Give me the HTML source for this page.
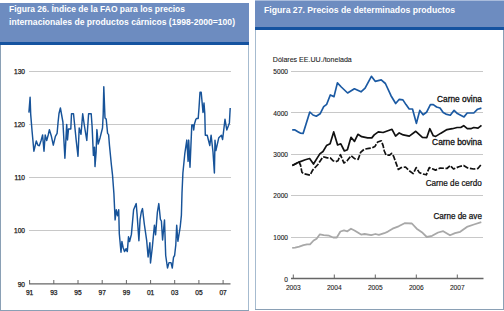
<!DOCTYPE html>
<html><head><meta charset="utf-8"><title>Figuras 26 y 27</title>
<style>
html,body{margin:0;padding:0;background:#fff;width:504px;height:311px;overflow:hidden}
svg{display:block;font-family:"Liberation Sans",sans-serif}
</style></head>
<body>
<svg width="504" height="311" viewBox="0 0 504 311">
<rect x="0" y="44" width="1" height="267" fill="#8aa0b5"/>
<rect x="248" y="44" width="1" height="267" fill="#a6bbcf"/>
<rect x="0" y="310" width="249" height="1" fill="#8aa0b5"/>
<rect x="0" y="3" width="249" height="39" fill="#6d8cc0"/>
<rect x="0" y="42" width="249" height="3" fill="#1553a0"/>
<rect x="255" y="29" width="1" height="281" fill="#a6bbcf"/>
<rect x="503" y="29" width="1" height="281" fill="#8aa0b5"/>
<rect x="255" y="309" width="249" height="1" fill="#8aa0b5"/>
<rect x="255" y="0" width="249" height="1" fill="#a9bcdc"/>
<rect x="255" y="1" width="249" height="26" fill="#6d8cc0"/>
<rect x="255" y="27" width="249" height="3" fill="#1553a0"/>
<text x="9" y="12.3" font-size="9.4" font-weight="bold" fill="#fff" textLength="176" lengthAdjust="spacingAndGlyphs">Figura 26. Índice de la FAO para los precios</text>
<text x="9" y="25" font-size="9.4" font-weight="bold" fill="#fff" textLength="226" lengthAdjust="spacingAndGlyphs">internacionales de productos cárnicos (1998-2000=100)</text>
<text x="264" y="12.8" font-size="9.4" font-weight="bold" fill="#fff" textLength="191" lengthAdjust="spacingAndGlyphs">Figura 27. Precios de determinados productos</text>
<line x1="29" y1="71.5" x2="231" y2="71.5" stroke="#c8c8c8" stroke-width="1"/>
<text x="25" y="73.8" font-size="6.6" fill="#1a1a1a" stroke="#1a1a1a" stroke-width="0.25" text-anchor="end">130</text>
<line x1="29" y1="124.5" x2="231" y2="124.5" stroke="#c8c8c8" stroke-width="1"/>
<text x="25" y="126.8" font-size="6.6" fill="#1a1a1a" stroke="#1a1a1a" stroke-width="0.25" text-anchor="end">120</text>
<line x1="29" y1="177.5" x2="231" y2="177.5" stroke="#c8c8c8" stroke-width="1"/>
<text x="25" y="179.8" font-size="6.6" fill="#1a1a1a" stroke="#1a1a1a" stroke-width="0.25" text-anchor="end">110</text>
<line x1="29" y1="230.5" x2="231" y2="230.5" stroke="#c8c8c8" stroke-width="1"/>
<text x="25" y="232.8" font-size="6.6" fill="#1a1a1a" stroke="#1a1a1a" stroke-width="0.25" text-anchor="end">100</text>
<text x="25" y="287.2" font-size="6.6" fill="#1a1a1a" stroke="#1a1a1a" stroke-width="0.25" text-anchor="end">90</text>
<line x1="29" y1="283.8" x2="230.5" y2="283.8" stroke="#666666" stroke-width="1.3"/>
<line x1="29.6" y1="280" x2="29.6" y2="284" stroke="#666666" stroke-width="1"/>
<text x="29.6" y="295.1" font-size="6.6" fill="#1a1a1a" stroke="#1a1a1a" stroke-width="0.25" text-anchor="middle">91</text>
<line x1="53.8" y1="280" x2="53.8" y2="284" stroke="#666666" stroke-width="1"/>
<text x="53.8" y="295.1" font-size="6.6" fill="#1a1a1a" stroke="#1a1a1a" stroke-width="0.25" text-anchor="middle">93</text>
<line x1="78.0" y1="280" x2="78.0" y2="284" stroke="#666666" stroke-width="1"/>
<text x="78.0" y="295.1" font-size="6.6" fill="#1a1a1a" stroke="#1a1a1a" stroke-width="0.25" text-anchor="middle">95</text>
<line x1="102.2" y1="280" x2="102.2" y2="284" stroke="#666666" stroke-width="1"/>
<text x="102.2" y="295.1" font-size="6.6" fill="#1a1a1a" stroke="#1a1a1a" stroke-width="0.25" text-anchor="middle">97</text>
<line x1="126.4" y1="280" x2="126.4" y2="284" stroke="#666666" stroke-width="1"/>
<text x="126.4" y="295.1" font-size="6.6" fill="#1a1a1a" stroke="#1a1a1a" stroke-width="0.25" text-anchor="middle">99</text>
<line x1="150.6" y1="280" x2="150.6" y2="284" stroke="#666666" stroke-width="1"/>
<text x="150.6" y="295.1" font-size="6.6" fill="#1a1a1a" stroke="#1a1a1a" stroke-width="0.25" text-anchor="middle">01</text>
<line x1="174.7" y1="280" x2="174.7" y2="284" stroke="#666666" stroke-width="1"/>
<text x="174.7" y="295.1" font-size="6.6" fill="#1a1a1a" stroke="#1a1a1a" stroke-width="0.25" text-anchor="middle">03</text>
<line x1="198.9" y1="280" x2="198.9" y2="284" stroke="#666666" stroke-width="1"/>
<text x="198.9" y="295.1" font-size="6.6" fill="#1a1a1a" stroke="#1a1a1a" stroke-width="0.25" text-anchor="middle">05</text>
<line x1="223.1" y1="280" x2="223.1" y2="284" stroke="#666666" stroke-width="1"/>
<text x="223.1" y="295.1" font-size="6.6" fill="#1a1a1a" stroke="#1a1a1a" stroke-width="0.25" text-anchor="middle">07</text>
<polyline points="28.9,112.6 30.1,97.3 30.7,114.4 32.1,131.5 33.9,151.2 36.3,141.0 37.9,145.2 39.3,145.8 41.1,140.5 42.6,134.9 44.0,151.2 45.2,135.0 46.7,140.5 48.2,135.0 49.4,129.7 51.4,136.3 53.3,145.2 55.4,136.3 57.1,133.3 58.1,122.0 59.0,113.5 60.4,108.0 62.9,122.0 64.9,158.3 66.7,124.4 67.5,139.9 68.5,129.0 70.8,129.0 71.5,113.8 73.5,113.8 75.3,131.5 76.2,140.4 78.0,156.3 79.2,128.0 81.0,134.2 82.7,113.8 84.2,124.5 86.8,140.4 88.6,113.8 91.2,113.8 92.1,126.4 93.4,155.4 94.5,147.3 95.0,166.6 96.1,152.2 96.9,129.6 98.2,144.1 100.1,137.7 102.5,128.0 103.2,114.4 103.8,86.8 105.0,118.0 106.2,119.1 107.6,133.4 108.6,134.6 109.5,145.6 111.4,165.0 112.5,174.8 113.9,193.5 115.1,219.9 116.3,209.8 117.5,215.7 118.7,209.8 119.3,233.6 121.0,252.2 121.9,241.5 123.1,247.5 124.5,251.6 126.1,248.7 127.3,251.6 128.5,236.8 129.6,241.5 131.4,234.4 133.6,209.8 136.2,203.6 137.1,214.5 138.9,240.7 140.1,219.3 141.3,212.0 142.5,208.6 144.3,224.0 146.7,240.7 148.1,257.0 149.9,242.7 150.5,263.0 152.3,247.5 154.4,225.2 155.6,234.8 157.4,212.0 158.8,203.6 160.4,219.3 161.4,221.0 162.6,240.0 164.5,219.9 165.7,255.5 167.5,268.0 169.0,262.6 171.0,262.6 172.3,268.0 173.5,257.3 174.6,255.5 175.8,244.8 176.7,225.3 177.9,241.3 180.2,227.0 181.4,215.1 182.0,192.9 182.9,173.0 184.8,153.7 186.8,140.1 188.1,161.4 188.7,140.1 190.0,167.2 191.8,124.9 193.1,124.9 193.7,130.0 194.4,124.2 195.7,119.7 196.6,118.4 198.2,118.4 199.0,108.0 200.0,92.3 201.2,92.3 203.0,112.5 204.0,103.0 204.8,113.9 205.3,135.2 207.2,135.2 209.8,145.5 211.1,135.2 213.0,152.0 214.4,173.0 215.0,140.3 215.9,150.6 218.8,137.7 221.4,135.2 222.6,139.5 225.0,119.3 226.8,130.0 228.6,125.2 229.4,122.9 230.2,108.0" fill="none" stroke="#175399" stroke-width="1.45" stroke-linejoin="round"/>
<text x="272.8" y="62" font-size="7.9" fill="#1a1a1a" stroke="#1a1a1a" stroke-width="0.1" textLength="79" lengthAdjust="spacingAndGlyphs">Dólares EE.UU./tonelada</text>
<line x1="291" y1="71.5" x2="483" y2="71.5" stroke="#c8c8c8" stroke-width="1"/>
<text x="288" y="74.2" font-size="6.6" fill="#1a1a1a" stroke="#1a1a1a" stroke-width="0.12" text-anchor="end">5000</text>
<line x1="291" y1="112.5" x2="483" y2="112.5" stroke="#c8c8c8" stroke-width="1"/>
<text x="288" y="115.5" font-size="6.6" fill="#1a1a1a" stroke="#1a1a1a" stroke-width="0.12" text-anchor="end">4000</text>
<line x1="291" y1="154.5" x2="483" y2="154.5" stroke="#c8c8c8" stroke-width="1"/>
<text x="288" y="156.9" font-size="6.6" fill="#1a1a1a" stroke="#1a1a1a" stroke-width="0.12" text-anchor="end">3000</text>
<line x1="291" y1="195.5" x2="483" y2="195.5" stroke="#c8c8c8" stroke-width="1"/>
<text x="288" y="197.9" font-size="6.6" fill="#1a1a1a" stroke="#1a1a1a" stroke-width="0.12" text-anchor="end">2000</text>
<line x1="291" y1="237.5" x2="483" y2="237.5" stroke="#c8c8c8" stroke-width="1"/>
<text x="288" y="239.9" font-size="6.6" fill="#1a1a1a" stroke="#1a1a1a" stroke-width="0.12" text-anchor="end">1000</text>
<text x="288" y="281.7" font-size="6.6" fill="#1a1a1a" stroke="#1a1a1a" stroke-width="0.12" text-anchor="end">0</text>
<line x1="291" y1="278.5" x2="483.5" y2="278.5" stroke="#666666" stroke-width="1.3"/>
<line x1="293.3" y1="274.5" x2="293.3" y2="278.5" stroke="#666666" stroke-width="1"/>
<text x="293.3" y="290" font-size="6.6" fill="#1a1a1a" stroke="#1a1a1a" stroke-width="0.1" text-anchor="middle">2003</text>
<line x1="334.3" y1="274.5" x2="334.3" y2="278.5" stroke="#666666" stroke-width="1"/>
<text x="334.3" y="290" font-size="6.6" fill="#1a1a1a" stroke="#1a1a1a" stroke-width="0.1" text-anchor="middle">2004</text>
<line x1="375.3" y1="274.5" x2="375.3" y2="278.5" stroke="#666666" stroke-width="1"/>
<text x="375.3" y="290" font-size="6.6" fill="#1a1a1a" stroke="#1a1a1a" stroke-width="0.1" text-anchor="middle">2005</text>
<line x1="416.3" y1="274.5" x2="416.3" y2="278.5" stroke="#666666" stroke-width="1"/>
<text x="416.3" y="290" font-size="6.6" fill="#1a1a1a" stroke="#1a1a1a" stroke-width="0.1" text-anchor="middle">2006</text>
<line x1="457.3" y1="274.5" x2="457.3" y2="278.5" stroke="#666666" stroke-width="1"/>
<text x="457.3" y="290" font-size="6.6" fill="#1a1a1a" stroke="#1a1a1a" stroke-width="0.1" text-anchor="middle">2007</text>
<polyline points="292.2,247.9 295.1,247.6 299.3,246.7 303.5,245.2 307.0,244.4 310.0,244.4 313.6,240.5 316.6,238.7 319.9,234.3 323.7,235.1 329.1,235.7 333.2,237.5 336.8,237.5 340.4,231.5 344.0,230.4 347.4,231.3 351.0,228.7 354.5,230.5 361.1,234.6 364.6,234.0 371.2,235.2 375.4,234.0 378.9,234.9 384.3,233.2 387.9,231.6 392.6,228.7 398.6,226.3 404.6,223.2 411.9,223.5 416.7,228.7 422.6,232.8 426.8,237.0 432.1,235.8 438.1,232.5 443.2,231.2 450.0,235.3 455.0,233.1 460.2,231.8 466.9,226.9 473.9,224.5 481.3,222.2" fill="none" stroke="#a8a8a8" stroke-width="1.8" stroke-linejoin="round"/>
<polyline points="292.3,165.4 299.0,162.1 300.5,165.0 301.9,172.2 303.4,173.6 310.1,175.1 312.5,170.3 317.9,164.5 321.7,158.7 323.1,156.7 327.3,157.9 330.3,157.9 333.2,160.8 335.6,161.7 338.0,160.8 340.4,154.7 343.9,162.9 346.9,161.1 351.1,155.7 354.6,158.7 358.2,159.3 360.6,152.4 364.2,149.2 368.9,148.4 371.9,148.0 374.8,146.6 377.7,142.0 381.3,140.8 383.1,145.6 384.3,151.0 386.1,155.1 389.6,155.1 391.6,153.3 393.6,156.3 398.3,169.4 401.3,167.6 405.5,167.0 409.0,170.6 413.2,173.6 416.2,167.6 419.2,172.4 421.5,173.6 426.3,174.8 429.3,167.6 432.3,168.8 435.5,170.1 440.2,168.0 446.9,168.5 450.2,165.5 453.5,169.0 458.8,166.7 463.6,165.5 467.7,167.9 473.7,169.0 477.9,168.5 481.4,164.3" fill="none" stroke="#111" stroke-width="1.7" stroke-dasharray="5.5 1.6" stroke-linejoin="round"/>
<polyline points="292.3,165.4 299.0,162.1 305.3,159.7 309.6,158.5 313.5,164.0 319.8,153.9 323.0,151.5 326.5,145.6 330.1,143.8 333.7,131.9 337.6,145.0 340.8,143.8 344.4,151.0 347.4,149.8 351.0,137.3 354.5,141.4 357.9,134.3 361.7,136.7 367.6,137.9 371.8,137.9 374.2,134.9 378.3,131.9 383.1,132.5 387.9,130.7 392.0,129.3 395.6,136.1 399.2,132.9 403.3,134.9 409.3,136.1 415.8,131.3 422.4,137.3 426.8,137.6 429.8,128.7 433.3,135.8 435.7,136.4 440.5,133.4 447.0,129.6 452.4,128.7 457.1,127.5 460.7,127.5 463.7,125.7 467.3,128.7 470.8,128.7 473.8,127.5 478.0,128.1 481.5,125.3" fill="none" stroke="#111" stroke-width="1.7" stroke-linejoin="round"/>
<polyline points="292.2,129.9 295.0,129.9 298.3,131.9 300.3,133.1 303.1,133.5 309.8,112.0 313.0,115.0 316.3,116.2 320.1,113.8 323.7,106.7 326.7,104.3 330.3,95.0 334.0,96.6 337.4,82.9 341.3,87.0 347.6,93.0 354.4,88.8 361.0,91.8 365.1,88.2 371.4,76.3 375.2,81.3 381.2,79.9 385.4,83.5 391.0,95.7 395.7,103.5 399.3,99.3 402.9,99.9 406.0,104.6 409.2,109.0 412.5,109.0 416.4,123.4 419.8,110.4 423.1,114.8 426.5,112.3 430.4,104.6 433.3,104.6 436.6,107.0 440.0,108.0 443.2,112.5 445.9,114.1 450.3,115.2 454.1,110.3 457.4,113.6 464.0,116.9 467.2,113.0 473.8,113.0 477.6,109.2 481.4,108.1" fill="none" stroke="#1b5aa3" stroke-width="1.7" stroke-linejoin="round"/>
<text x="437" y="102.1" font-size="8.4" fill="#111" stroke="#111" stroke-width="0.3" textLength="45" lengthAdjust="spacingAndGlyphs">Carne ovina</text>
<text x="432.1" y="145.1" font-size="8.4" fill="#111" stroke="#111" stroke-width="0.3" textLength="49.8" lengthAdjust="spacingAndGlyphs">Carne bovina</text>
<text x="425.7" y="185.7" font-size="8.4" fill="#111" stroke="#111" stroke-width="0.22" textLength="56.1" lengthAdjust="spacingAndGlyphs">Carne de cerdo</text>
<text x="433.4" y="219" font-size="8.4" fill="#111" stroke="#111" stroke-width="0.25" textLength="48.5" lengthAdjust="spacingAndGlyphs">Carne de ave</text>
</svg>
</body></html>
